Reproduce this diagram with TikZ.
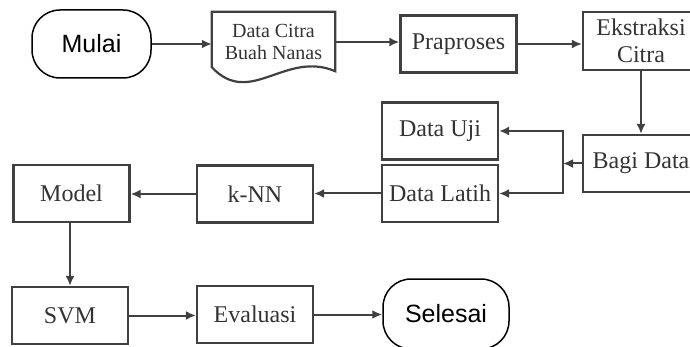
\documentclass[tikz,border=0pt]{standalone}
\usepackage{fontspec}
\setmainfont{Liberation Serif}
\setsansfont{Liberation Sans}
\usetikzlibrary{positioning,arrows.meta}

\begin{document}
\begin{tikzpicture}[x=1pt,y=-1pt]
        \tikzstyle{every node}=[inner sep=0pt]
        \tikzstyle{kotak}=[draw=black!75, line width=2.2pt, minimum width=116pt, minimum height=57pt, text=black!80, font=\fontsize{24}{27}\selectfont, align=center]
        \tikzstyle{terminal}=[draw=black, line width=1.5pt, rounded corners=28pt, minimum width=119pt, minimum height=68pt, font=\sffamily\fontsize{25}{28}\selectfont]
        \tikzstyle{panah}=[draw=black!75, line width=2pt, -{Latex[length=10pt,width=9pt]}]

        \useasboundingbox (0,0) rectangle (690,347);

        % baris atas
        \node[terminal] (mulai) at (91.5,44) {Mulai};
        \node[minimum width=123pt, minimum height=60pt, text=black!80, font=\fontsize{20}{22}\selectfont, align=center] (citra) at (273.5,42) {Data Citra\\Buah Nanas};
        \draw[black!75, line width=2.2pt] ([yshift=5pt]citra.south west) -- (citra.north west) -- (citra.north east) -- ([yshift=1pt]citra.south east) .. controls (285,50) and (250,108) .. ([yshift=5pt]citra.south west) -- cycle;
        \node[kotak] (prap) at (458.5,44) {Praproses};
        \node[kotak, minimum height=58pt] (ekst) at (641,41) {Ekstraksi\\Citra};

        % pembagian data
        \node[kotak] (bagi) at (641,163.5) {Bagi Data};
        \node[kotak] (uji) at (440,131) {Data Uji};
        \node[kotak] (latih) at (440,193.5) {Data Latih};
        \node[kotak] (knn) at (255,194) {k-NN};
        \node[kotak] (model) at (71.5,193.5) {Model};

        % baris bawah
        \node[kotak] (svm) at (70,315.5) {SVM};
        \node[kotak] (eval) at (255,314.5) {Evaluasi};
        \node[terminal, minimum width=126pt, minimum height=70pt] (selesai) at (446,314) {Selesai};

        \coordinate (split) at (563,163.5);

        \draw[panah] (mulai.east) -- (mulai.east -| citra.west);
        \draw[panah] (citra.east) -- (citra.east -| prap.west);
        \draw[panah] (prap.east) -- (prap.east -| ekst.west);
        \draw[panah] (ekst) -- (bagi);
        \draw[panah] (bagi.west) -- (split);
        \draw[panah] (split) |- (uji.east);
        \draw[panah] (split) |- (latih.east);
        \draw[panah] (latih.west) -- (latih.west -| knn.east);
        \draw[panah] (knn.west) -- (knn.west -| model.east);
        \draw[panah] (model.south -| svm.north) -- (svm.north);
        \draw[panah] (svm.east) -- (svm.east -| eval.west);
        \draw[panah] (eval.east) -- (eval.east -| selesai.west);
    \end{tikzpicture}
\end{document}
